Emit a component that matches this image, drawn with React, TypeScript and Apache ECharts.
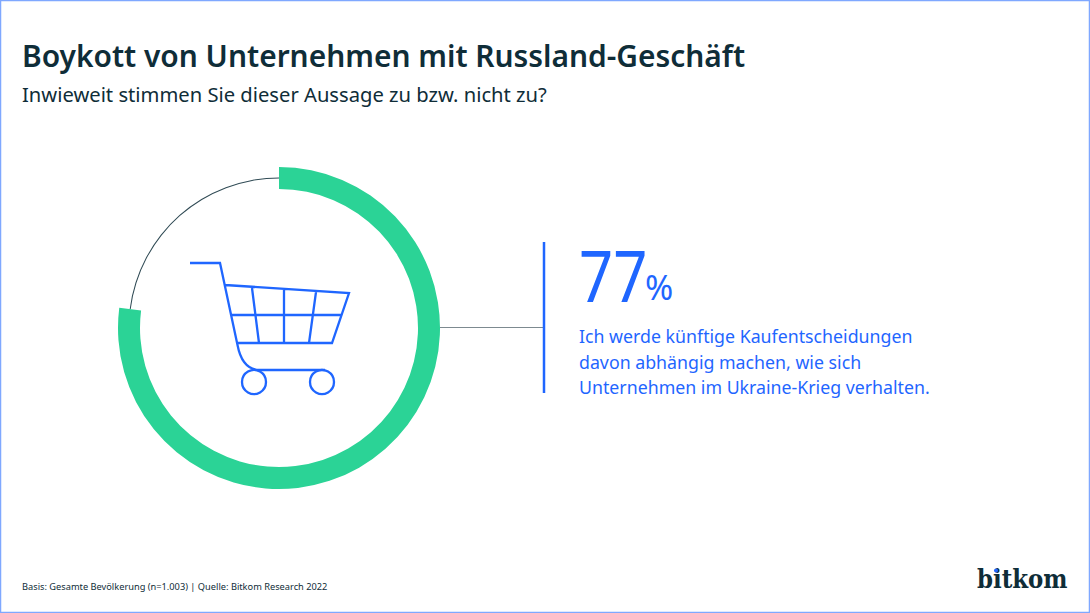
import React, { useEffect, useRef } from "react";
import * as echarts from "echarts";

const sliceNames = ["Zustimmung", "Rest"];
const sliceValues = [77, 23];
const titleText = "Boykott von Unternehmen mit Russland-Geschäft";
const subtitleText = "Inwieweit stimmen Sie dieser Aussage zu bzw. nicht zu?";
const valueText = "77";
const statementLines = [
  "Ich werde künftige Kaufentscheidungen",
  "davon abhängig machen, wie sich",
  "Unternehmen im Ukraine-Krieg verhalten.",
];
const footnoteText = "Basis: Gesamte Bevölkerung (n=1.003) | Quelle: Bitkom Research 2022";

const GREEN = "#2BD396";
const BLUE = "#1F66FF";
const DARK = "#0F2D38";
const FONT = "'Noto Sans', sans-serif";

const cartPath =
  "M190 263 L220 263 L237.5 345 C240 358 246 370 260 370 L325 370 " +
  "M225 285 L349 293 L332 343 L237 343 M231 315 L341 315 " +
  "M252 288 L259 343 M284 290 L284 343 M316 292 L309 343";
echarts.graphic.registerShape("cart", echarts.graphic.extendPath(cartPath, {}) as any);

export default function App() {
  const ref = useRef<HTMLDivElement>(null);
  useEffect(() => {
    const chart = echarts.init(ref.current!, undefined, { renderer: "svg" });
    const data = sliceNames.map((name, i) => ({ name, value: sliceValues[i] }));
    const common = {
      type: "pie" as const,
      center: [279, 328],
      startAngle: 90,
      clockwise: true,
      silent: true,
      label: { show: false },
      labelLine: { show: false },
    };
    chart.setOption({
      animation: false,
      backgroundColor: "#ffffff",
      series: [
        {
          ...common,
          radius: [149.5, 150.5],
          z: 1,
          data: data.map((d, i) => ({
            ...d,
            itemStyle: { color: i === 1 ? "#2f4a54" : "transparent" },
          })),
        },
        {
          ...common,
          radius: [139, 161],
          z: 2,
          data: data.map((d, i) => ({
            ...d,
            itemStyle: { color: i === 0 ? GREEN : "transparent" },
          })),
        },
      ],
      graphic: [
        { type: "rect", shape: { x: 0.5, y: 0.5, width: 1089, height: 612 }, style: { fill: "none", stroke: "#7FA8FF", lineWidth: 1.5 } },
        { type: "text", x: 22, y: 55.5, style: { text: titleText, font: `600 29.9px ${FONT}`, fill: DARK, textVerticalAlign: "middle" } },
        { type: "text", x: 22, y: 94, style: { text: subtitleText, font: `400 20.2px ${FONT}`, fill: DARK, textVerticalAlign: "middle" } },
        { type: "line", shape: { x1: 440, y1: 327.5, x2: 543, y2: 327.5 }, style: { stroke: "#7d8a90", lineWidth: 1 } },
        { type: "line", shape: { x1: 544, y1: 242, x2: 544, y2: 393 }, style: { stroke: BLUE, lineWidth: 2.5 } },
        { type: "text", x: 579, y: 274, scaleX: 0.83, style: { text: valueText, font: `400 72px ${FONT}`, fill: BLUE, textVerticalAlign: "middle" } },
        { type: "text", x: 645, y: 287, style: { text: "%", font: `400 34px ${FONT}`, fill: BLUE, textVerticalAlign: "middle" } },
        ...statementLines.map((text, i) => ({
          type: "text", x: 579, y: 336 + i * 25.5,
          style: { text, font: `400 17.75px ${FONT}`, fill: BLUE, textVerticalAlign: "middle" },
        })),
        { type: "text", x: 22, y: 586, style: { text: footnoteText, font: `400 9.25px ${FONT}`, fill: DARK, textVerticalAlign: "middle" } },
        { type: "text", x: 977, y: 579, scaleX: 0.88, style: { text: "bitkom", font: `700 26px 'DejaVu Serif', serif`, fill: DARK, textVerticalAlign: "middle" } },
        { type: "circle", z: 10, shape: { cx: 996, cy: 570.5, r: 2 }, style: { fill: BLUE } },
        { type: "cart", style: { fill: "none", stroke: BLUE, lineWidth: 2.3 } },
        { type: "circle", shape: { cx: 254, cy: 382, r: 12 }, style: { fill: "none", stroke: BLUE, lineWidth: 2.3 } },
        { type: "circle", shape: { cx: 322, cy: 382, r: 12 }, style: { fill: "none", stroke: BLUE, lineWidth: 2.3 } },
      ],
    });
    return () => chart.dispose();
  }, []);
  return <div ref={ref} style={{ position: "fixed", left: 0, top: 0, width: 1090, height: 613 }} />;
}
